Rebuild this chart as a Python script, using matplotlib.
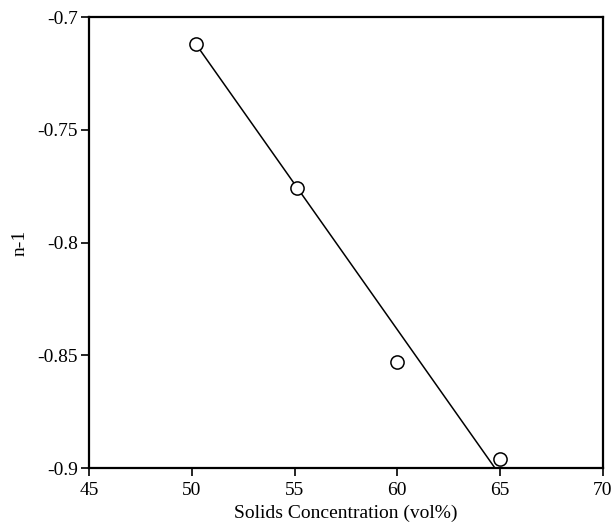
import matplotlib
matplotlib.use("Agg")
import matplotlib.pyplot as plt

# Measured flow-index data
solids_vol = [50.2, 55.1, 60.0, 65.0]
n_minus_1 = [-0.712, -0.776, -0.853, -0.896]

# Linear fit drawn through the data
fit_x = [50.2, 64.75]
fit_y = [-0.712, -0.900]

x_ticks = [45, 50, 55, 60, 65, 70]
y_ticks = [-0.9, -0.85, -0.8, -0.75, -0.7]
y_tick_labels = ["-0.9", "-0.85", "-0.8", "-0.75", "-0.7"]

plt.rcParams["font.family"] = ["Liberation Serif", "DejaVu Serif"]

fig = plt.figure(figsize=(6.12, 5.32), dpi=100)
ax = fig.add_axes([0.1454, 0.1203, 0.8396, 0.8477])

ax.plot(fit_x, fit_y, color="black", linewidth=1.1, zorder=2)
ax.plot(solids_vol, n_minus_1, linestyle="none", marker="o", markersize=9.5,
        markerfacecolor="white", markeredgecolor="black", markeredgewidth=1.1,
        zorder=3, clip_on=False)

ax.set_xlim(45, 70)
ax.set_ylim(-0.9, -0.7)
ax.set_xticks(x_ticks)
ax.set_xticklabels([str(t) for t in x_ticks])
ax.set_yticks(y_ticks)
ax.set_yticklabels(y_tick_labels)

for side in ["left", "right", "top", "bottom"]:
    ax.spines[side].set_linewidth(1.6)

ax.tick_params(axis="both", direction="out", length=6, width=1.2,
               labelsize=14, top=False, right=False)
ax.tick_params(axis="x", pad=4)
ax.tick_params(axis="y", pad=2)
ax.set_xlabel("Solids Concentration (vol%)", fontsize=14, labelpad=4)
ax.set_ylabel("n-1", fontsize=14, labelpad=6)

fig.savefig("out.png", dpi=100)
